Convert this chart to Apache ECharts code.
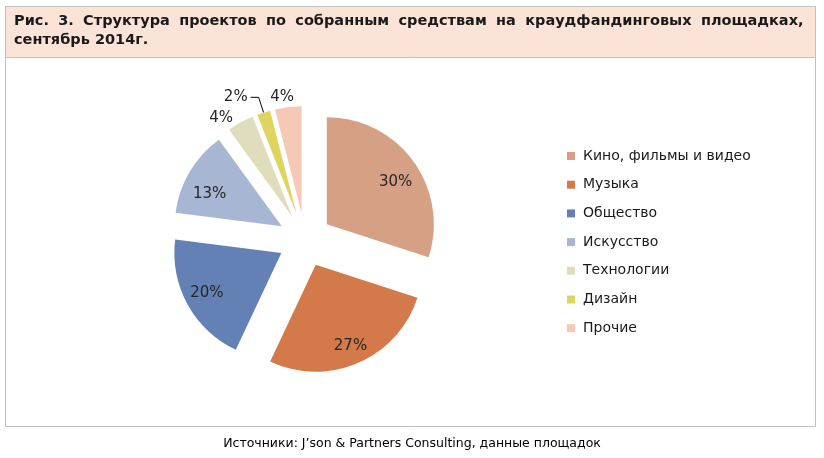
<!DOCTYPE html>
<html>
<head>
<meta charset="utf-8">
<script src="https://cdn.jsdelivr.net/npm/echarts@6/dist/echarts.min.js"></script>
<style>
html,body{margin:0;padding:0;background:#fff;}
#chart{width:824px;height:458px;}
</style>
</head>
<body>
<div id="chart"></div>
<script>
const categories = ['Кино, фильмы и видео', 'Музыка', 'Общество', 'Искусство', 'Технологии', 'Дизайн', 'Прочие'];
const values = [30, 27, 20, 13, 4, 2, 4];
const titleLines = ['Рис. 3. Структура проектов по собранным средствам на краудфандинговых площадках,', 'сентябрь 2014г.'];
const sourceText = 'Источники: J\u2019son & Partners Consulting, данные площадок';

const palette = ['#D5A084', '#D4794A', '#6481B6', '#A6B6D3', '#DFDDBB', '#DED45F', '#F6C9B6'];

// label placement per slice (style only)
const outerLabel = {
  4: {distanceToLabelLine: 5, lineShow: false, length: 5, length2: 0},
  5: {distanceToLabelLine: 3, lineShow: true, length: 16, length2: 8},
  6: {distanceToLabelLine: -7, lineShow: false, length: 10, length2: 0}
};
// small pixel nudges of the inside labels
const innerLabelNudge = {0: [0, 8], 1: [1, 3], 2: [0, -1], 3: [1, 11]};

const labelFont = {fontFamily: 'DejaVu Sans', fontSize: 15, color: '#262626', formatter: '{c}%'};

const mainData = categories.map((name, i) => {
  const o = outerLabel[i];
  return {
    name: name,
    value: values[i],
    selected: true,
    itemStyle: {color: palette[i]},
    label: o ? Object.assign({show: true, position: 'outside', distanceToLabelLine: o.distanceToLabelLine}, labelFont)
             : {show: false},
    labelLine: o ? {show: o.lineShow, length: o.length, length2: o.length2, smooth: false,
                    lineStyle: {color: '#000', width: 1}} : {show: false}
  };
});

const overlayData = categories.map((name, i) => ({
  name: name,
  value: values[i],
  selected: true,
  itemStyle: {color: 'rgba(0,0,0,0)'},
  label: outerLabel[i] ? {show: false}
        : Object.assign({show: true, position: 'inside'}, labelFont),
  labelLine: {show: false}
}));

const titleFont = {fontFamily: 'DejaVu Sans', fontWeight: 'bold', fontSize: 14.5, lineHeight: 19, color: '#1a1a1a'};
// first line is justified (wider word spaces), second line left-aligned
const titleRichText = titleLines[0].split(' ').join('{s| }') + '\n' + titleLines[1];

const chart = echarts.init(document.getElementById('chart'), null, {renderer: 'canvas'});
chart.setOption({
  animation: false,
  backgroundColor: '#ffffff',
  graphic: [
    {type: 'rect', z: -10, shape: {x: 5.5, y: 6.5, width: 810, height: 420},
     style: {fill: '#ffffff', stroke: '#C0C0C0', lineWidth: 1}},
    {type: 'rect', z: -9, shape: {x: 5.5, y: 6.5, width: 810, height: 51},
     style: {fill: '#FBE3D8', stroke: '#C0C0C0', lineWidth: 1}}
  ],
  title: [
    {text: titleRichText, left: 14, top: 12, padding: 0,
     textStyle: Object.assign({}, titleFont, {rich: {s: Object.assign({}, titleFont, {width: 9.3})}})},
    {text: sourceText, left: 'center', top: 437, padding: 0,
     textStyle: {fontFamily: 'DejaVu Sans', fontWeight: 'normal', fontSize: 12.5, color: '#000'}}
  ],
  legend: {
    orient: 'vertical',
    left: 567,
    top: 148,
    itemWidth: 8,
    itemHeight: 8,
    itemGap: 12.7,
    icon: 'rect',
    padding: 0,
    selectedMode: false,
    data: categories.map((n, i) => ({name: n, itemStyle: {color: palette[i]}})),
    textStyle: {fontFamily: 'DejaVu Sans', fontSize: 14, lineHeight: 16, color: '#1a1a1a', padding: [0, 0, 0, 3]}
  },
  series: [
    {
      type: 'pie',
      center: [305, 240],
      radius: 107,
      startAngle: 90,
      clockwise: true,
      selectedMode: 'multiple',
      selectedOffset: 27,
      avoidLabelOverlap: false,
      minShowLabelAngle: 0,
      itemStyle: {borderWidth: 0},
      emphasis: {disabled: true},
      data: mainData
    },
    {
      type: 'pie',
      silent: true,
      center: [305, 240],
      radius: 164,
      startAngle: 90,
      clockwise: true,
      selectedMode: 'multiple',
      selectedOffset: 27,
      avoidLabelOverlap: false,
      itemStyle: {borderWidth: 0},
      emphasis: {disabled: true},
      labelLayout: function (p) {
        const n = innerLabelNudge[p.dataIndex] || [0, 0];
        return {dx: n[0], dy: n[1]};
      },
      data: overlayData
    }
  ]
});
</script>
</body>
</html>
